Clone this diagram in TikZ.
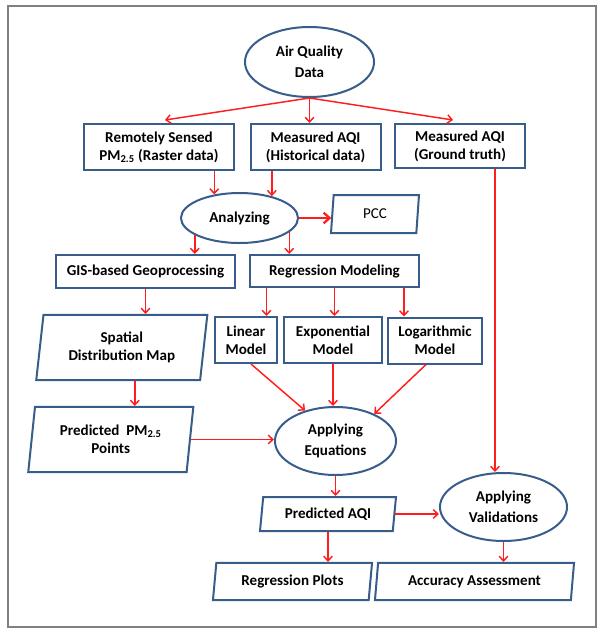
\documentclass[tikz,border=0pt]{standalone}
\usepackage{fontspec}
\setmainfont{Carlito}
\usetikzlibrary{arrows.meta,shapes.geometric,calc}

\definecolor{boxblue}{RGB}{56,93,138}
\definecolor{flowred}{RGB}{255,30,30}
\definecolor{framegray}{RGB}{128,128,128}

\begin{document}
\begin{tikzpicture}[
  x=0.75pt,y=-0.75pt,
  font=\fontsize{11.3}{13.7}\selectfont\bfseries,
  >={Straight Barb[length=3.5pt,width=6.5pt]},
  box/.style={draw=boxblue,line width=1.5pt,fill=white,align=center,
              inner sep=1pt},
  oval/.style={ellipse,draw=boxblue,line width=1.5pt,fill=white,align=center,
               inner sep=0pt,font=\fontsize{11.3}{16}\selectfont\bfseries},
  slanted/.style={trapezium,trapezium left angle=78,trapezium right angle=102,
                  trapezium stretches body,draw=boxblue,line width=1.5pt,
                  fill=white,align=center,inner sep=1pt},
  flow/.style={->,draw=flowred,line width=1.1pt},
]
\useasboundingbox (0,0) rectangle (597,629);
\draw[framegray,line width=1.5pt] (8,6) rectangle (596,627);

% ---- top: input data and the three sources ----
\node[oval,minimum width=96.8pt,minimum height=52.5pt] (air) at (309.5,62)
     {Air Quality\\Data};
\node[box,minimum width=111.8pt,minimum height=34.5pt] (remote) at (159,147)
     {Remotely Sensed\\PM\textsubscript{2.5} (Raster data)};
\node[box,minimum width=97.5pt,minimum height=34.5pt] (hist) at (315.5,147)
     {Measured AQI\\(Historical data)};
\node[box,minimum width=97.5pt,minimum height=33pt] (ground) at (460,146)
     {Measured AQI\\(Ground truth)};

% ---- analysis and correlation ----
\node[oval,minimum width=87.8pt,minimum height=37.5pt] (ana) at (239.5,218)
     {Analyzing};
\node[slanted,minimum width=66pt,minimum height=28.5pt,font=\fontsize{11.3}{13.7}\selectfont]
     (pcc) at (375,214) {PCC};

% ---- two branches: GIS and regression ----
\node[box,minimum width=134.3pt,minimum height=24.8pt] (gis) at (145.5,271.5)
     {GIS-based Geoprocessing};
\node[box,minimum width=126.8pt,minimum height=24pt] (regm) at (334.5,271)
     {Regression Modeling};
\node[slanted,minimum width=128.3pt,minimum height=48.8pt] (spat) at (121.8,347.5)
     {Spatial\\Distribution Map};
\node[box,minimum width=46.5pt,minimum height=34.5pt] (lin) at (246,340)
     {Linear\\Model};
\node[box,minimum width=72.8pt,minimum height=34.5pt] (expo) at (333,340)
     {Exponential\\Model};
\node[box,minimum width=70.5pt,minimum height=34.5pt] (loga) at (435,340.5)
     {Logarithmic\\Model};
\node[slanted,minimum width=123.8pt,minimum height=48.8pt] (pm) at (110.8,439.5)
     {Predicted~ PM\textsubscript{2.5}\\Points};

% ---- prediction and validation ----
\node[oval,minimum width=90.8pt,minimum height=51pt] (eq) at (335.5,441)
     {Applying\\Equations};
\node[slanted,minimum width=102pt,minimum height=25.5pt] (paqi) at (328,514)
     {Predicted AQI};
\node[oval,minimum width=95.3pt,minimum height=51pt] (val) at (503.5,507)
     {Applying\\Validations};
\node[slanted,minimum width=119.3pt,minimum height=27.8pt] (rplot) at (292.5,581.5)
     {Regression Plots};
\node[slanted,minimum width=149.3pt,minimum height=27.8pt] (acc) at (474.5,581.5)
     {Accuracy Assessment};

% helper points for the off-centre drops
\coordinate (r1) at ($(regm.south)+(-68,0)$);
\coordinate (r3) at ($(regm.south)+(69.5,0)$);
\coordinate (s1) at ($(spat.south)+(13,0)$);
\coordinate (g1) at ($(ground.south)+(35,0)$);

% connectors
\draw[flow] (air.south) -- ($(remote.north)+(6,-3)$);
\draw[flow] (air.south) -- (air.south |- hist.north);
\draw[flow] (air.south) -- ($(ground.north)+(-7,-3)$);
\draw[flow] (remote.south -| ana.137) -- (ana.137);
\draw[flow] (hist.south -| ana.34) -- (ana.34);
\draw[flow,line width=1.7pt,>={Straight Barb[length=4.5pt,width=8pt]}]
     (ana.east) -- (ana.east -| pcc.west);
\draw[flow] (ana.-159) -- (ana.-159 |- gis.north);
\draw[flow] (ana.-16) -- (ana.-16 |- regm.north);
\draw[flow] (gis.south) -- (gis.south |- spat.north);
\draw[flow] (r1) -- (r1 |- lin.north);
\draw[flow] (regm.south) -- (regm.south |- expo.north);
\draw[flow] (r3) -- (r3 |- loga.north);
\draw[flow] ($(lin.south)+(5,0)$) -- (eq.135);
\draw[flow] (expo.south) -- (expo.south |- eq.north);
\draw[flow] ($(loga.south)+(-9,0)$) -- (eq.35);
\draw[flow] (s1) -- (s1 |- pm.north);
\draw[flow] (pm.east) -- (pm.east -| eq.west);
\draw[flow] (eq.south) -- (eq.south |- paqi.north);
\draw[flow] (paqi.east) -- (paqi.east -| val.west);
\draw[flow] (g1) -- (g1 |- val.north);
\draw[flow] (paqi.south) -- (paqi.south |- rplot.north);
\draw[flow] (val.south) -- (val.south |- acc.north);

\end{tikzpicture}
\end{document}
